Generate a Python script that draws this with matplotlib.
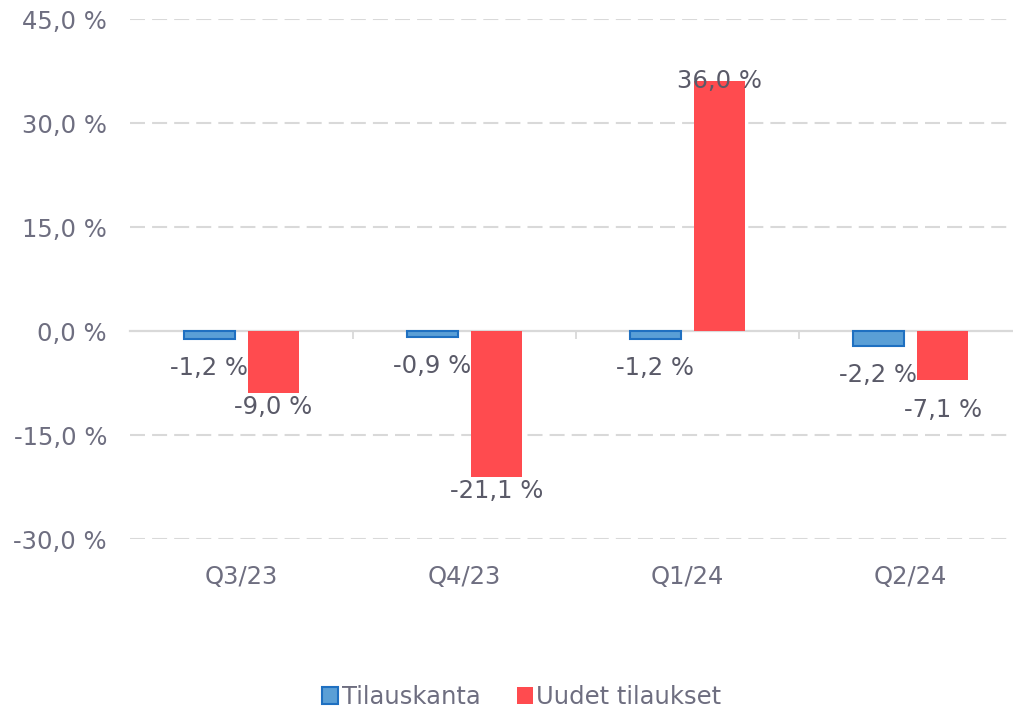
import numpy as np
import matplotlib
matplotlib.use("Agg")
import matplotlib.pyplot as plt
from matplotlib.patches import Patch

# Datos
kvartaalit = ["Q3/23", "Q4/23", "Q1/24", "Q2/24"]
tilauskanta = [-1.2, -0.9, -1.2, -2.2]
uudet_tilaukset = [-9.0, -21.1, 36.0, -7.1]
y_ticks = [-30, -15, 0, 15, 30, 45]


def fmt(v):
    return f"{v:.1f} %".replace(".", ",")


plt.rcParams["font.family"] = ["DejaVu Sans"]
FS = 17.5

fig = plt.figure(figsize=(10.13, 7.09), dpi=100)
ax = fig.add_axes([130 / 1013, 1 - 539 / 709, 892 / 1013, 520 / 709])

x = np.arange(len(kvartaalit))
w = 0.228
off = 0.144
sininen = "#5a9fd6"
reuna = "#1f70c1"
punainen = "#ff4b4f"

b1 = ax.bar(x - off, tilauskanta, w, color=sininen, edgecolor=reuna, linewidth=1.5, zorder=3)
b2 = ax.bar(x + off, uudet_tilaukset, w, color=punainen, edgecolor="none", zorder=3)

teksti = "#5a5a68"
for bar, v in zip(b1, tilauskanta):
    ax.annotate(fmt(v), (bar.get_x() + bar.get_width() / 2, v), xytext=(0, -12),
                textcoords="offset points", ha="center", va="top", fontsize=FS,
                color=teksti, zorder=4)
# punaisten tunnisteiden siirrot (pisteinä), viimeinen siirretty alemmas kuten alkuperäisessä
siirrot = [-1, -1, 0, -13]
for bar, v, dy in zip(b2, uudet_tilaukset, siirrot):
    ax.annotate(fmt(v), (bar.get_x() + bar.get_width() / 2, v), xytext=(0, dy),
                textcoords="offset points", ha="center",
                va="top" if v < 0 else "center", fontsize=FS,
                color=teksti, zorder=4)

ax.set_xlim(-0.5, len(kvartaalit) - 0.5)
ax.set_ylim(-30, 45)
ax.set_yticks(y_ticks)
ax.set_yticklabels([fmt(t) for t in y_ticks])
ax.set_xticks(x)
ax.set_xticklabels(kvartaalit)
ax.tick_params(axis="both", length=0, labelsize=FS, labelcolor="#6e6e80")
ax.tick_params(axis="y", pad=16.5)
ax.tick_params(axis="x", pad=19)

for t in y_ticks:
    if t != 0:
        ax.axhline(t, color="#d9d9d9", linewidth=1.5, linestyle=(0, (7.2, 3.4)), zorder=1)

for s in ax.spines.values():
    s.set_visible(False)

# Nollaviiva ja kategoriarajojen merkit
sec = ax.secondary_xaxis(30 / 75)
sec.spines["bottom"].set_color("#d9d9d9")
sec.spines["bottom"].set_linewidth(1.6)
sec.set_xticks(x[:-1] + 0.5)
sec.set_xticklabels([])
sec.tick_params(axis="x", direction="out", length=6, width=1.3, color="#d9d9d9")

fig.legend(handles=[
    Patch(facecolor=sininen, edgecolor=reuna, linewidth=1.5, label="Tilauskanta"),
    Patch(facecolor=punainen, edgecolor="none", label="Uudet tilaukset"),
], loc="center", bbox_to_anchor=(0.515, 1 - 697 / 709), ncol=2, frameon=False,
    fontsize=FS, labelcolor="#6e6e80", handlelength=0.65, handleheight=0.65,
    handletextpad=0.15, columnspacing=1.5)

fig.savefig("out.png", dpi=100)
